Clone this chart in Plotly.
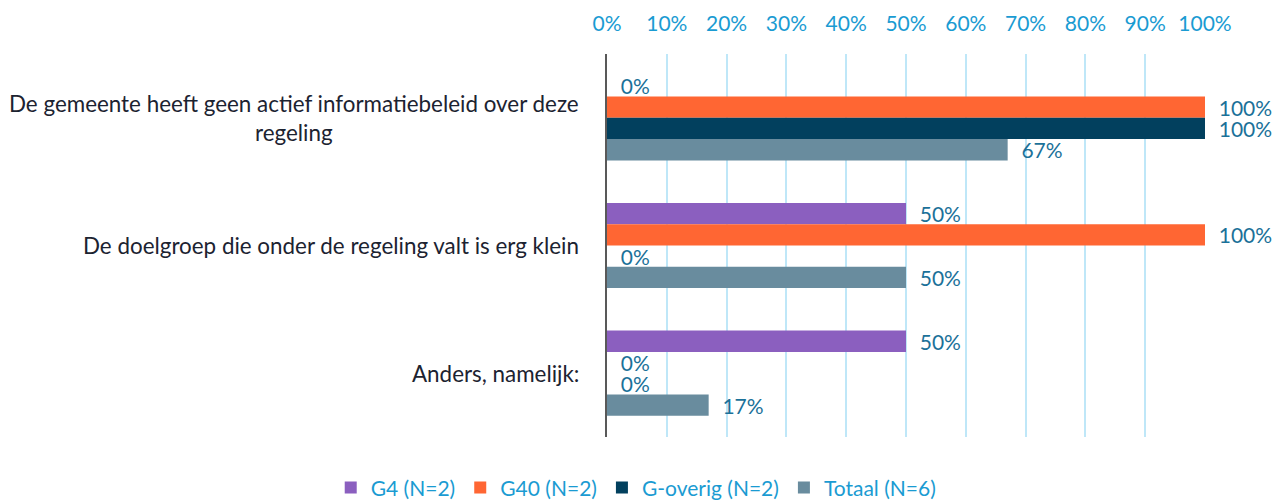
import plotly.graph_objects as go

categories = [
    "De gemeente heeft geen actief informatiebeleid over deze regeling",
    "De doelgroep die onder de regeling valt is erg klein",
    "Anders, namelijk:",
]
category_labels = [
    "De gemeente heeft geen actief informatiebeleid over deze<br>regeling",
    "De doelgroep die onder de regeling valt is erg klein",
    "Anders, namelijk:",
]
series_names = ["G4 (N=2)", "G40 (N=2)", "G-overig (N=2)", "Totaal (N=6)"]
g4 = [0, 50, 50]
g40 = [100, 100, 0]
g_overig = [100, 0, 0]
totaal = [67, 50, 17]
tick_values = list(range(0, 101, 10))

colors = ["#8B5FBF", "#FF6633", "#02405E", "#698C9E"]
FONT = "Lato, Carlito, Calibri, sans-serif"
LABEL_COLOR = "#1B7199"
TICK_COLOR = "#1A9BD2"

fig = go.Figure()
for name, vals, col in zip(series_names, [g4, g40, g_overig, totaal], colors):
    fig.add_trace(go.Bar(
        y=categories, x=vals, name=name, orientation="h",
        marker=dict(color=col, line=dict(width=0)),
        text=["\u00a0\u00a0" + f"{v}%" for v in vals],
        textposition="outside", cliponaxis=False, constraintext="none",
        textfont=dict(family=FONT, size=21, color=LABEL_COLOR),
        hoverinfo="skip",
    ))

for cat, lab in zip(categories, category_labels):
    fig.add_annotation(
        x=-0.0435, xref="paper", y=cat, yref="y", text=lab,
        xanchor="right", yanchor="middle", align="center", showarrow=False,
        font=dict(family=FONT, size=22.4, color="#1C2331"),
    )

fig.update_layout(
    width=1274, height=493,
    margin=dict(l=599, r=77, t=46, b=64, autoexpand=False),
    paper_bgcolor="white", plot_bgcolor="white",
    barmode="group", bargap=0.333, bargroupgap=0,
    font=dict(family=FONT),
    legend=dict(
        orientation="h", xref="paper", yref="paper",
        x=-0.462, xanchor="left", y=-0.133, yanchor="middle",
        font=dict(family=FONT, size=21, color=TICK_COLOR),
        traceorder="normal", itemwidth=30,
    ),
    xaxis=dict(
        side="top", range=[0, 100], tickvals=tick_values,
        ticktext=[f"{t}%" for t in tick_values],
        showgrid=True, gridcolor="#BFE7F8", gridwidth=1.5,
        zeroline=False, showline=False, ticks="",
        tickfont=dict(family=FONT, size=21, color=TICK_COLOR),
        ticklabelstandoff=18,
        fixedrange=True, automargin=False,
    ),
    yaxis=dict(
        autorange="reversed", showticklabels=False, ticks="",
        showline=True, linecolor="#595959", linewidth=1.5,
        showgrid=False, zeroline=False, fixedrange=True, automargin=False,
    ),
)

fig.write_html("out.html")
